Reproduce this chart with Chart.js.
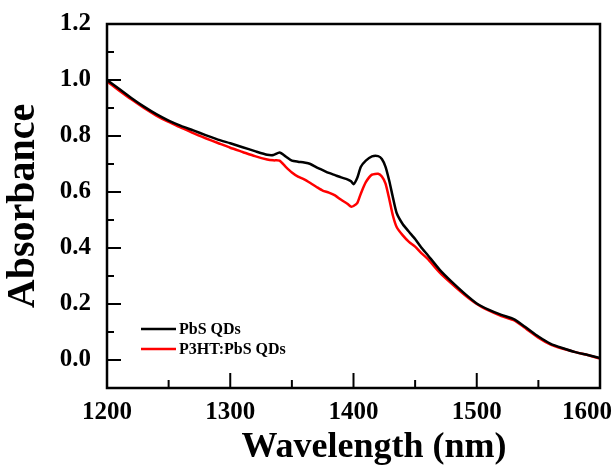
<!DOCTYPE html>
<html>
<head>
<meta charset="utf-8">
<script src="https://cdn.jsdelivr.net/npm/chart.js@4.4.1/dist/chart.umd.min.js"></script>
<style>
	html, body { margin: 0; padding: 0; background: #fff; }
	#wrap { width: 614px; height: 467px; }
</style>
</head>
<body>
<div id="wrap"><canvas id="chart" width="614" height="467"></canvas></div>
<script>
// wavelengths (nm) and absorbance
var pbsWave = [1200, 1210, 1220, 1230, 1240, 1250, 1260, 1270, 1280, 1290, 1300, 1310, 1320, 1330, 1335, 1340, 1345, 1350, 1355, 1360, 1365, 1370, 1375, 1380, 1385, 1390, 1395, 1398, 1400, 1403, 1406, 1410, 1415, 1420, 1423, 1426, 1429, 1432, 1435, 1440, 1445, 1450, 1455, 1460, 1470, 1480, 1490, 1500, 1510, 1520, 1530, 1540, 1550, 1560, 1570, 1580, 1590, 1600];
var pbsAbs = [1.000, 0.968, 0.935, 0.905, 0.878, 0.855, 0.836, 0.820, 0.803, 0.787, 0.774, 0.760, 0.746, 0.733, 0.732, 0.741, 0.727, 0.712, 0.708, 0.705, 0.700, 0.688, 0.678, 0.668, 0.660, 0.652, 0.645, 0.638, 0.628, 0.650, 0.690, 0.712, 0.727, 0.728, 0.718, 0.690, 0.640, 0.580, 0.525, 0.485, 0.458, 0.432, 0.402, 0.376, 0.322, 0.278, 0.238, 0.202, 0.179, 0.161, 0.146, 0.116, 0.084, 0.058, 0.042, 0.028, 0.018, 0.007];

var p3htWave = [1200, 1210, 1220, 1230, 1240, 1250, 1260, 1270, 1280, 1290, 1300, 1310, 1320, 1330, 1335, 1340, 1345, 1350, 1355, 1360, 1365, 1370, 1375, 1380, 1385, 1390, 1395, 1398, 1400, 1403, 1406, 1410, 1415, 1420, 1423, 1426, 1429, 1432, 1435, 1440, 1445, 1450, 1455, 1460, 1470, 1480, 1490, 1500, 1510, 1520, 1530, 1540, 1550, 1560, 1570, 1580, 1590, 1600];
var p3htAbs = [0.995, 0.962, 0.930, 0.900, 0.873, 0.850, 0.830, 0.810, 0.792, 0.775, 0.758, 0.743, 0.728, 0.716, 0.713, 0.712, 0.690, 0.670, 0.655, 0.645, 0.632, 0.618, 0.605, 0.598, 0.588, 0.572, 0.558, 0.548, 0.550, 0.560, 0.595, 0.635, 0.662, 0.665, 0.655, 0.630, 0.575, 0.515, 0.475, 0.445, 0.422, 0.405, 0.382, 0.362, 0.312, 0.271, 0.233, 0.200, 0.176, 0.157, 0.142, 0.112, 0.080, 0.055, 0.040, 0.028, 0.018, 0.005];

var seriesNames = ["PbS QDs", "P3HT:PbS QDs"];
var seriesColors = ["#000000", "#ff0000"];
var xTitle = "Wavelength (nm)";
var yTitle = "Absorbance";

var xMin = 1200, xMax = 1600, xStep = 50;
var yMin = -0.1, yMax = 1.2, yStep = 0.1;

var serif = "'Liberation Serif', 'Times New Roman', serif";

function points(xs, ys)
{
	return xs.map(function (x, i) { return {x: x, y: ys[i]}; });
}

// ticks pointing into the plot, frame all round, x labels kept on the canvas, legend inside
var frame = {
	id: 'frame',
	afterDraw: function (chart)
	{
		var ctx = chart.ctx;
		var a = chart.chartArea;
		var xs = chart.scales.x;
		var ys = chart.scales.y;
		ctx.save();
		ctx.strokeStyle = '#000';
		ctx.lineWidth = 2.5;
		ctx.strokeRect(a.left, a.top, a.right - a.left, a.bottom - a.top);

		ctx.lineWidth = 2;
		xs.ticks.forEach(function (t)
		{
			var px = xs.getPixelForValue(t.value);
			if (px <= a.left + 1 || px >= a.right - 1)
				return;
			var len = (Math.round(t.value) % 100 === 0) ? 15 : 8;
			ctx.beginPath();
			ctx.moveTo(px, a.bottom);
			ctx.lineTo(px, a.bottom - len);
			ctx.stroke();
		});
		ys.ticks.forEach(function (t)
		{
			var py = ys.getPixelForValue(t.value);
			if (py <= a.top + 1 || py >= a.bottom - 1)
				return;
			var len = (Math.round(t.value * 10) % 2 === 0) ? 14 : 7;
			ctx.beginPath();
			ctx.moveTo(a.left, py);
			ctx.lineTo(a.left + len, py);
			ctx.stroke();
		});

		// x tick labels, the last one pushed in so it is not cut
		ctx.fillStyle = '#000';
		ctx.font = "bold 25px " + serif;
		ctx.textAlign = 'center';
		ctx.textBaseline = 'alphabetic';
		xs.ticks.forEach(function (t)
		{
			if (Math.round(t.value) % 100 !== 0)
				return;
			var s = String(t.value);
			var w = ctx.measureText(s).width;
			var px = Math.min(xs.getPixelForValue(t.value), chart.width - 2 - w / 2);
			ctx.fillText(s, px, a.bottom + 31);
		});

		ctx.font = "bold 36px " + serif;
		ctx.fillText(xTitle, 374, a.bottom + 69);

		// legend
		var lx = a.left + 34, ly = a.bottom - 59;
		ctx.font = "bold 16px " + serif;
		ctx.textAlign = 'left';
		ctx.textBaseline = 'middle';
		chart.data.datasets.forEach(function (d, i)
		{
			var y = ly + i * 20;
			ctx.strokeStyle = d.borderColor;
			ctx.lineWidth = 2.5;
			ctx.beginPath();
			ctx.moveTo(lx, y);
			ctx.lineTo(lx + 35, y);
			ctx.stroke();
			ctx.fillStyle = '#000';
			ctx.fillText(d.label, lx + 38, y + 1);
		});
		ctx.restore();
	}
};

var ctx = document.getElementById('chart').getContext('2d');
var chart = new Chart(ctx, {
	type: 'line',
	data: {
		datasets: [
			{
				label: seriesNames[0],
				data: points(pbsWave, pbsAbs),
				borderColor: seriesColors[0],
				borderWidth: 2.5,
				pointRadius: 0,
				tension: 0.2,
				fill: false
			},
			{
				label: seriesNames[1],
				data: points(p3htWave, p3htAbs),
				borderColor: seriesColors[1],
				borderWidth: 2.5,
				pointRadius: 0,
				tension: 0.2,
				fill: false
			}
		]
	},
	options: {
		responsive: false,
		animation: false,
		layout: { padding: { top: 24, right: 14, left: 0, bottom: 0 } },
		plugins: { legend: { display: false }, tooltip: { enabled: false } },
		scales: {
			x: {
				type: 'linear',
				min: xMin,
				max: xMax,
				afterFit: function (s) { s.height = 79; s.paddingLeft = 0; s.paddingRight = 0; },
				grid: { display: false, drawTicks: false },
				border: { display: false },
				ticks: {
					stepSize: xStep,
					autoSkip: false,
					maxRotation: 0,
					color: 'rgba(0,0,0,0)',
					font: { family: serif, size: 25, weight: 'bold' },
					callback: function (v) { return (Math.round(v) % 100 === 0) ? String(v) : ''; }
				},
				title: { display: false }
			},
			y: {
				type: 'linear',
				min: yMin,
				max: yMax,
				afterFit: function (s) { s.width = 107; s.paddingTop = 0; s.paddingBottom = 0; },
				grid: { display: false, drawTicks: false },
				border: { display: false },
				ticks: {
					stepSize: yStep,
					autoSkip: false,
					padding: 16,
					color: '#000',
					font: { family: serif, size: 25, weight: 'bold' },
					callback: function (v)
					{
						var k = Math.round(v * 10);
						return (k >= 0 && k % 2 === 0) ? (k / 10).toFixed(1) : '';
					}
				},
				title: {
					display: true,
					text: yTitle,
					color: '#000',
					padding: { top: 0, bottom: 0 },
					font: { family: serif, size: 40, weight: 'bold' }
				}
			}
		}
	},
	plugins: [frame]
});
</script>
</body>
</html>
